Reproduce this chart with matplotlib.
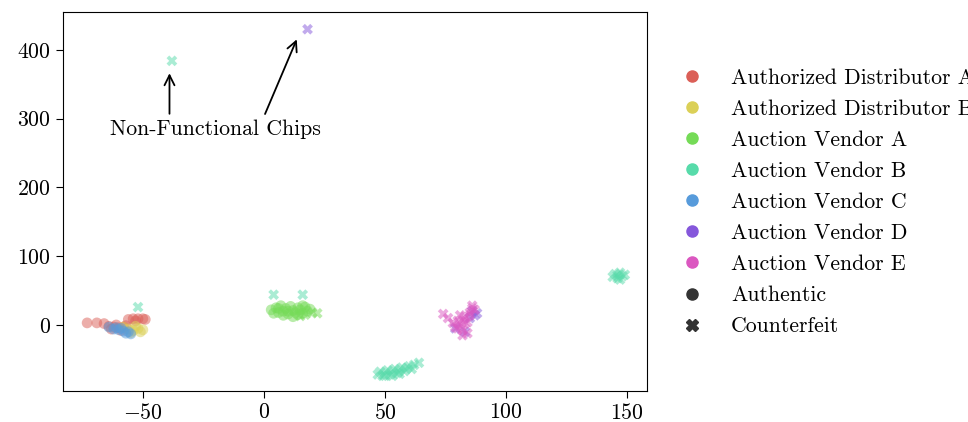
import colorsys
import matplotlib
matplotlib.use("Agg")
import matplotlib.pyplot as plt
from matplotlib.lines import Line2D

plt.rcParams['font.family'] = 'serif'
plt.rcParams['font.serif'] = ['cmr10']
plt.rcParams['mathtext.fontset'] = 'cm'
plt.rcParams['axes.formatter.use_mathtext'] = True
plt.rcParams['font.size'] = 15.7

vendors = ["Authorized Distributor A", "Authorized Distributor B", "Auction Vendor A",
           "Auction Vendor B", "Auction Vendor C", "Auction Vendor D", "Auction Vendor E"]

# (vendor index, authentic?, xs, ys)
dist_a_x = [-73, -69, -66, -64, -62, -60, -58, -63, -59, -56, -54, -52, -50, -49, -53, -61, -57]
dist_a_y = [3, 3, 2, -2, -3, -4, -3, -6, -8, 8, 9, 9, 9, 8, 6, 0, -1]

dist_b_x = [-58, -56, -54, -52, -51, -55, -53, -50]
dist_b_y = [-3, -6, -8, -5, -10, -11, -2, -7]

vend_c_x = [-64, -62, -60, -58, -57, -55, -59, -61, -56]
vend_c_y = [-3, -6, -7, -9, -12, -13, -5, -4, -10]

vend_a_x = [3, 5, 6, 7, 8, 9, 10, 11, 12, 13, 14, 15, 16, 17, 18, 4, 8, 12, 6, 10, 14, 19, 16]
vend_a_y = [22, 25, 18, 28, 20, 24, 16, 27, 21, 18, 25, 22, 17, 26, 20, 17, 14, 12, 24, 20, 15, 23, 28]
vend_a_fake_x = [17, 20, 22, 15]
vend_a_fake_y = [15, 18, 17, 13]

vend_b_x = [-52, 4, 16, -38,
            47, 48, 49, 50, 51, 52, 53, 54, 55, 56, 57, 58, 59, 60, 61, 62, 64, 50, 53, 56,
            144, 145, 146, 147, 148, 149, 146, 147]
vend_b_y = [26, 44, 44, 384,
            -72, -68, -74, -70, -66, -72, -68, -64, -70, -66, -62, -67, -63, -60, -64, -58, -55, -74, -74, -71,
            70, 74, 68, 76, 71, 73, 72, 66]

vend_d_x = [18, 86, 87, 85, 83, 88, 79]
vend_d_y = [430, 20, 14, 10, -10, 17, -5]

vend_e_x = [74, 76, 78, 79, 80, 81, 82, 83, 84, 85, 86, 84, 82, 80, 83, 81, 87, 85, 82, 86]
vend_e_y = [16, 10, 3, -3, 6, 0, 8, 12, 4, 18, 24, -12, -8, -5, 2, 14, 22, 14, -15, 28]

groups = [
    (0, True, dist_a_x, dist_a_y),
    (1, True, dist_b_x, dist_b_y),
    (4, True, vend_c_x, vend_c_y),
    (2, True, vend_a_x, vend_a_y),
    (2, False, vend_a_fake_x, vend_a_fake_y),
    (3, False, vend_b_x, vend_b_y),
    (5, False, vend_d_x, vend_d_y),
    (6, False, vend_e_x, vend_e_y),
]

note_text = "Non-Functional Chips"
note_pos = (-20, 284)
arrow_tips = [(-39, 370), (14, 419)]
arrow_tails = [(-39, 303), (0, 303)]

colors = [colorsys.hls_to_rgb((0.01 + i / 7) % 1, 0.6, 0.65) for i in range(7)]

fig = plt.figure(figsize=(9.68, 4.22), dpi=100)
ax = fig.add_axes([0.065, 0.0735, 0.603, 0.898])

for vi, auth, xs, ys in groups:
    ax.scatter(xs, ys, s=60, color=colors[vi], marker='o' if auth else 'X',
               alpha=0.5, edgecolors='none')

ax.text(note_pos[0], note_pos[1], note_text, ha='center', va='center')
for tip, tail in zip(arrow_tips, arrow_tails):
    ax.annotate('', xy=tip, xytext=tail,
                arrowprops=dict(arrowstyle='->', color='black', lw=1.3, mutation_scale=18))

ax.set_xlim(-83, 158)
ax.set_ylim(-96, 455)
ax.set_xticks([-50, 0, 50, 100, 150])
ax.set_yticks([0, 100, 200, 300, 400])
ax.tick_params(direction='out', length=5)

handles = [Line2D([], [], marker='o', ls='', color=c, markersize=8) for c in colors]
handles += [Line2D([], [], marker='o', ls='', color='#333333', markersize=8),
            Line2D([], [], marker='X', ls='', color='#333333', markersize=8)]
labels = vendors + ["Authentic", "Counterfeit"]
fig.legend(handles, labels, loc='upper left', bbox_to_anchor=(0.672, 0.885),
           frameon=False, labelspacing=0.53)

fig.savefig("out.png", dpi=100)
